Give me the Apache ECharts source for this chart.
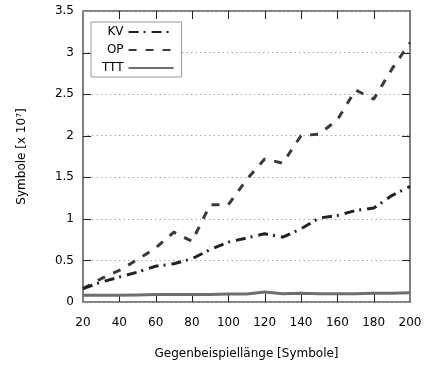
<!DOCTYPE html>
<html>
<head>
<meta charset="utf-8">
<script src="https://cdn.jsdelivr.net/npm/echarts@6/dist/echarts.min.js"></script>
<style>
  html, body { margin: 0; padding: 0; background: #fff; }
  #chart { width: 426px; height: 367px; }
</style>
</head>
<body>
<div id="chart"></div>
<script>
const lengths = [20, 30, 40, 50, 60, 70, 80, 90, 100, 110, 120, 130, 140, 150, 160, 170, 180, 190, 200]
const kvValues = [0.16, 0.24, 0.30, 0.36, 0.43, 0.46, 0.52, 0.63, 0.72, 0.77, 0.82, 0.78, 0.88, 1.01, 1.04, 1.10, 1.13, 1.28, 1.39]
const opValues = [0.16, 0.28, 0.38, 0.51, 0.65, 0.84, 0.73, 1.17, 1.17, 1.47, 1.72, 1.67, 2.00, 2.02, 2.19, 2.55, 2.44, 2.80, 3.12]
const tttValues = [0.08, 0.08, 0.08, 0.085, 0.09, 0.09, 0.09, 0.09, 0.095, 0.095, 0.12, 0.10, 0.105, 0.10, 0.10, 0.10, 0.105, 0.105, 0.11]
const xTicks = [40, 60, 80, 100, 120, 140, 160, 180]
const yTicks = [0.5, 1, 1.5, 2, 2.5, 3]

const font = 'DejaVu Sans'
const pairs = (vals) => lengths.map((x, i) => [x, vals[i]])

const chart = echarts.init(document.getElementById('chart'))

const TICK = 8
const tickStyle = { stroke: '#222', lineWidth: 1 }

// gnuplot-style inside ticks on all four sides of the frame
function renderXTick(params, api) {
  const x = Math.round(api.coord([api.value(0), 0])[0]) + 0.5
  const cs = params.coordSys
  return {
    type: 'group',
    children: [
      { type: 'line', shape: { x1: x, y1: cs.y + cs.height, x2: x, y2: cs.y + cs.height - TICK }, style: tickStyle },
      { type: 'line', shape: { x1: x, y1: cs.y, x2: x, y2: cs.y + TICK }, style: tickStyle }
    ]
  }
}
function renderYTick(params, api) {
  const y = Math.round(api.coord([20, api.value(1)])[1]) + 0.5
  const cs = params.coordSys
  return {
    type: 'group',
    children: [
      { type: 'line', shape: { x1: cs.x, y1: y, x2: cs.x + TICK, y2: y }, style: tickStyle },
      { type: 'line', shape: { x1: cs.x + cs.width, y1: y, x2: cs.x + cs.width - TICK, y2: y }, style: tickStyle }
    ]
  }
}

chart.setOption({
  animation: false,
  backgroundColor: '#fff',
  textStyle: { fontFamily: font },
  grid: { left: 83, right: 16, top: 11, bottom: 65, show: true, borderColor: '#555', borderWidth: 1.5, backgroundColor: 'transparent' },
  legend: {
    left: 91,
    top: 22,
    orient: 'vertical',
    align: 'right',
    itemWidth: 45,
    itemHeight: 14,
    itemGap: 6,
    padding: [4, 7, 3, 11],
    backgroundColor: '#fff',
    borderColor: '#999',
    borderWidth: 1,
    borderRadius: 0,
    itemStyle: { opacity: 0 },
    textStyle: { fontFamily: font, fontSize: 12, color: '#000' },
    data: ['KV', 'OP', 'TTT']
  },
  xAxis: {
    type: 'value',
    min: 20,
    max: 200,
    interval: 20,
    axisLine: { show: false },
    axisTick: { show: false },
    splitLine: { show: false },
    axisLabel: { fontFamily: font, fontSize: 12, color: '#000', margin: 15 },
    name: 'Gegenbeispiellänge [Symbole]',
    nameLocation: 'middle',
    nameGap: 46,
    nameTextStyle: { fontFamily: font, fontSize: 12, color: '#000' }
  },
  yAxis: {
    type: 'value',
    min: 0,
    max: 3.5,
    interval: 0.5,
    axisLine: { show: false },
    axisTick: { show: false },
    axisLabel: { fontFamily: font, fontSize: 12, color: '#000', margin: 9 },
    splitLine: { show: true, lineStyle: { color: '#aaa', type: [1.5, 3], width: 1 } },
    name: 'Symbole [x 10⁷]',
    nameLocation: 'middle',
    nameGap: 55,
    nameTextStyle: { fontFamily: font, fontSize: 12, color: '#000' }
  },
  series: [
    {
      name: 'xTicks',
      type: 'custom',
      data: xTicks.map((v) => [v, 0]),
      renderItem: renderXTick,
      silent: true,
      clip: false,
      z: 1
    },
    {
      name: 'yTicks',
      type: 'custom',
      data: yTicks.map((v) => [20, v]),
      renderItem: renderYTick,
      silent: true,
      clip: false,
      z: 1
    },
    {
      name: 'KV',
      type: 'line',
      data: pairs(kvValues),
      symbol: 'none',
      color: '#222',
      lineStyle: { color: '#222', width: 3, type: [10, 5, 2, 6] },
      z: 4
    },
    {
      name: 'OP',
      type: 'line',
      data: pairs(opValues),
      symbol: 'none',
      color: '#3a3a3a',
      lineStyle: { color: '#3a3a3a', width: 3, type: [8, 9] },
      z: 3
    },
    {
      name: 'TTT',
      type: 'line',
      data: pairs(tttValues),
      symbol: 'none',
      color: '#6e6e6e',
      lineStyle: { color: '#6e6e6e', width: 3 },
      z: 2
    }
  ]
})
</script>
</body>
</html>
